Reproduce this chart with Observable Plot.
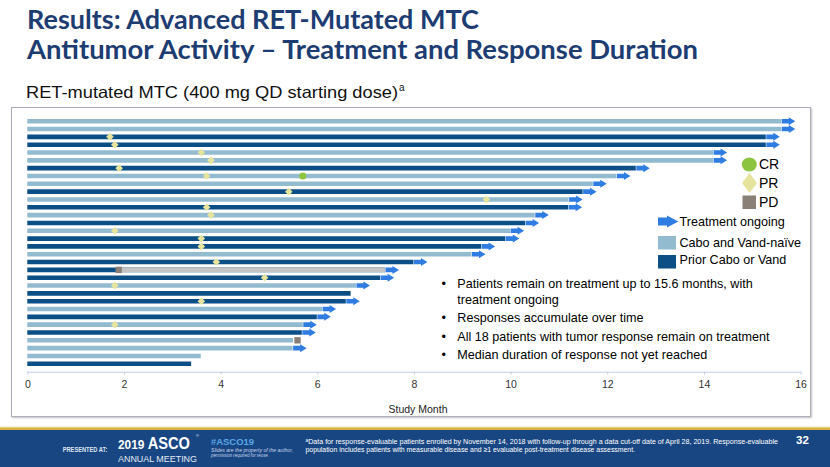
<!DOCTYPE html>
<html>
<head>
<meta charset="utf-8">
<script src="https://cdn.jsdelivr.net/npm/d3@7"></script>
<script src="https://cdn.jsdelivr.net/npm/@observablehq/plot@0.6"></script>
<style>
  html, body { margin: 0; padding: 0; background: #fff; }
  body { width: 830px; height: 467px; position: relative; overflow: hidden; font-family: "Liberation Sans", Arial, sans-serif; }
  #box { position: absolute; left: 11px; top: 107px; width: 798px; height: 308px; border: 1.5px solid #a9aeb9; box-shadow: 1px 1px 2px rgba(0,0,0,0.25); }
  #chart { position: absolute; left: 0; top: 107px; }
  #overlay { position: absolute; left: 0; top: 0; }
</style>
</head>
<body>
<div id="box"></div>
<div id="chart"></div>
<svg id="overlay" width="830" height="467"></svg>
<script>
// ---- data (rows listed top to bottom) ----
const cohort = ["naive","naive","prior","prior","naive","naive","prior","naive","naive","prior","naive","prior","naive","prior","naive","prior",
                "prior","naive","prior","prior","prior","naive","prior","prior","naive","prior","naive","prior","naive","naive","naive","prior"];
const durationMonths = [15.6,15.6,15.28,15.28,14.19,14.19,12.59,12.19,11.7,11.49,11.2,11.19,10.5,10.3,9.99,9.89,
                        9.39,9.19,7.99,7.4,7.3,6.8,6.69,6.59,6.1,5.99,5.7,5.68,5.5,5.49,3.59,3.39];
const ongoing = [1,1,1,1,1,1,1,1,1,1,1,1,1,1,1,1,1,1,1,1,1,1,0,1,1,1,1,1,0,1,0,0];
const prRows   = [3,4,5,6,7,8,10,11,12,13,15,16,17,19,21,22,24,27];
const prMonths = [1.70,1.80,3.59,3.79,1.89,3.70,5.40,9.49,3.70,3.79,1.80,3.59,3.59,3.90,4.90,1.80,3.59,1.80];
const crRows   = [8];
const crMonths = [5.69];
const pdRows   = [20,29];
const pdMonths = [1.88,5.58];
const postPdRows  = [20];
const postPdStart = [1.88];
const postPdEnd   = [7.40];
const xTicks = [0,2,4,6,8,10,12,14,16];

// ---- styles ----
const LIGHT = "#93bbd0", DARK = "#0b4f86", BLUE = "#2f7ce2", PRC = "#e6e39c", CRC = "#8cc43f", PDC = "#8b8077", GREY = "#c4c4c4";

const patients = durationMonths.map((d, i) => ({row: i + 1, end: d, cohort: cohort[i], ongoing: ongoing[i] === 1}));
const prs = prRows.map((r, i) => ({row: r, m: prMonths[i]}));
const crs = crRows.map((r, i) => ({row: r, m: crMonths[i]}));
const pds = pdRows.map((r, i) => ({row: r, m: pdMonths[i]}));
const post = postPdRows.map((r, i) => ({row: r, s: postPdStart[i], e: postPdEnd[i]}));

const arrowSym = { draw(ctx) {
  ctx.moveTo(0, -2.3); ctx.lineTo(7, -2.3); ctx.lineTo(7, -4); ctx.lineTo(13.5, 0);
  ctx.lineTo(7, 4); ctx.lineTo(7, 2.3); ctx.lineTo(0, 2.3); ctx.closePath();
}};
const diamondSym = { draw(ctx) {
  const a = 3.8; ctx.moveTo(0, -a); ctx.lineTo(a, 0); ctx.lineTo(0, a); ctx.lineTo(-a, 0); ctx.closePath();
}};

const chart = Plot.plot({
  width: 830, height: 310,
  marginLeft: 27.3, marginRight: 29.4, marginTop: 0, marginBottom: 45.3,
  x: {domain: [0, 16]},
  y: {domain: [1, 32], range: [13.7, 256.3], axis: null},
  style: {fontFamily: "'Liberation Sans', Arial, sans-serif", fontSize: "10.5px", color: "#333", background: "transparent", overflow: "visible"},
  marks: [
    Plot.ruleY(patients, {y: "row", x1: 0, x2: "end", stroke: d => d.cohort === "naive" ? LIGHT : DARK, strokeWidth: 4.6}),
    Plot.ruleY(post, {y: "row", x1: "s", x2: "e", stroke: GREY, strokeWidth: 4.6}),
    Plot.dot(patients.filter(d => d.ongoing), {x: "end", y: "row", r: 3, symbol: arrowSym, fill: BLUE}),
    Plot.dot(prs, {x: "m", y: "row", r: 3, symbol: diamondSym, fill: PRC}),
    Plot.dot(crs, {x: "m", y: "row", r: 3.6, fill: CRC}),
    Plot.dot(pds, {x: "m", y: "row", r: 3.6, symbol: "square", fill: PDC}),
    Plot.frame({anchor: "bottom", stroke: "#c3d0e6"}),
    Plot.axisX({ticks: xTicks, tickSize: 3, tickPadding: 5, stroke: "#c3d0e6", label: null, fill: "#333"})
  ]
});
document.getElementById("chart").appendChild(chart);

// ---- overlay texts, legend, footer ----
const o = d3.select("#overlay");
const T = (x, y, s, opt = {}) => {
  const t = o.append("text").attr("x", x).attr("y", y).text(s)
    .attr("font-size", opt.size || 12.6).attr("fill", opt.fill || "#000")
    .attr("font-family", opt.family || "'Liberation Sans', Arial, sans-serif");
  if (opt.weight) t.attr("font-weight", opt.weight);
  if (opt.style) t.attr("font-style", opt.style);
  if (opt.len) t.attr("textLength", opt.len).attr("lengthAdjust", "spacingAndGlyphs");
  if (opt.anchor) t.attr("text-anchor", opt.anchor);
  return t;
};
// title
T(27, 29, "Results: Advanced RET-Mutated MTC", {size: 27, weight: 700, family: "Lato, 'Open Sans', sans-serif", fill: "#1d3d72", len: 452});
T(27, 59, "Antitumor Activity \u2013 Treatment and Response Duration", {size: 27, weight: 700, family: "Lato, 'Open Sans', sans-serif", fill: "#1d3d72", len: 671});
T(26, 97.5, "RET-mutated MTC (400 mg QD starting dose)", {size: 16.5, fill: "#111", len: 372});
T(399, 91, "a", {size: 10, fill: "#111"});

// legend
o.append("ellipse").attr("cx", 749.3).attr("cy", 164.5).attr("rx", 7.5).attr("ry", 7).attr("fill", CRC);
o.append("polygon").attr("points", "749.5,173 757,183 749.5,193 742,183").attr("fill", PRC);
o.append("rect").attr("x", 742.5).attr("y", 195.5).attr("width", 13.5).attr("height", 13.5).attr("fill", PDC);
T(759, 168.5, "CR", {size: 14});
T(759, 188, "PR", {size: 14});
T(759, 207, "PD", {size: 14});
o.append("polygon").attr("points", "658,217.5 667,217.5 667,215.5 678.3,221.5 667,227.5 667,225.5 658,225.5").attr("fill", BLUE);
o.append("rect").attr("x", 658).attr("y", 236).attr("width", 18).attr("height", 13.5).attr("fill", LIGHT);
o.append("rect").attr("x", 658).attr("y", 255).attr("width", 18).attr("height", 13.5).attr("fill", DARK);
T(679.5, 226, "Treatment ongoing");
T(679.5, 246.5, "Cabo and Vand-na\u00efve");
T(679.5, 264, "Prior Cabo or Vand");

// bullets
const bullets = [
  [283.3, "Patients remain on treatment up to 15.6 months, with", true],
  [299.3, "treatment ongoing", false],
  [317.3, "Responses accumulate over time", true],
  [336, "All 18 patients with tumor response remain on treatment", true],
  [354.3, "Median duration of response not yet reached", true]
];
bullets.forEach(([y, s, b]) => {
  if (b) T(441.5, y + 4.5, "\u2022", {size: 12.6});
  T(457.3, y + 4.5, s, {size: 12.6});
});

// axis title
T(418, 412.5, "Study Month", {size: 10.5, fill: "#222", anchor: "middle"});

// footer
o.append("rect").attr("x", 0).attr("y", 426.5).attr("width", 830).attr("height", 1.5).attr("fill", "#f3e6b8");
o.append("rect").attr("x", 0).attr("y", 427.5).attr("width", 830).attr("height", 2.5).attr("fill", "#d8b13c");
o.append("rect").attr("x", 0).attr("y", 430).attr("width", 830).attr("height", 37).attr("fill", "#184683");
T(62.7, 452, "PRESENTED AT:", {size: 6.3, weight: 700, fill: "#dfe5ef", len: 44.6});
const asco = T(118, 448.5, "", {size: 13, weight: 700, fill: "#fff", len: 72});
asco.append("tspan").text("2019 ");
asco.append("tspan").attr("font-size", 16).text("ASCO");
T(196, 437, "\u00ae", {size: 4, fill: "#fff"});
T(118, 462, "ANNUAL MEETING", {size: 9, fill: "#e4e9f2", len: 79});
T(211, 445, "#ASCO19", {size: 9.5, weight: 700, fill: "#5aa6e6", len: 43});
T(211, 451.5, "Slides are the property of the author,", {size: 4.6, style: "italic", fill: "#c9d4e6", len: 82});
T(211, 456.5, "permission required for reuse.", {size: 4.6, style: "italic", fill: "#c9d4e6", len: 58});
T(305.5, 443.5, "\u1d43Data for response-evaluable patients enrolled by November 14, 2018 with follow-up through a data cut-off date of April 28, 2019. Response-evaluable",
  {size: 7.3, fill: "#fff", len: 472.5});
T(305.5, 452, "population includes patients with measurable disease and \u22651 evaluable post-treatment disease assessment.",
  {size: 7.3, fill: "#fff", len: 329.5});
T(796, 444, "32", {size: 11.5, weight: 700, fill: "#fff"});
</script>
</body>
</html>
